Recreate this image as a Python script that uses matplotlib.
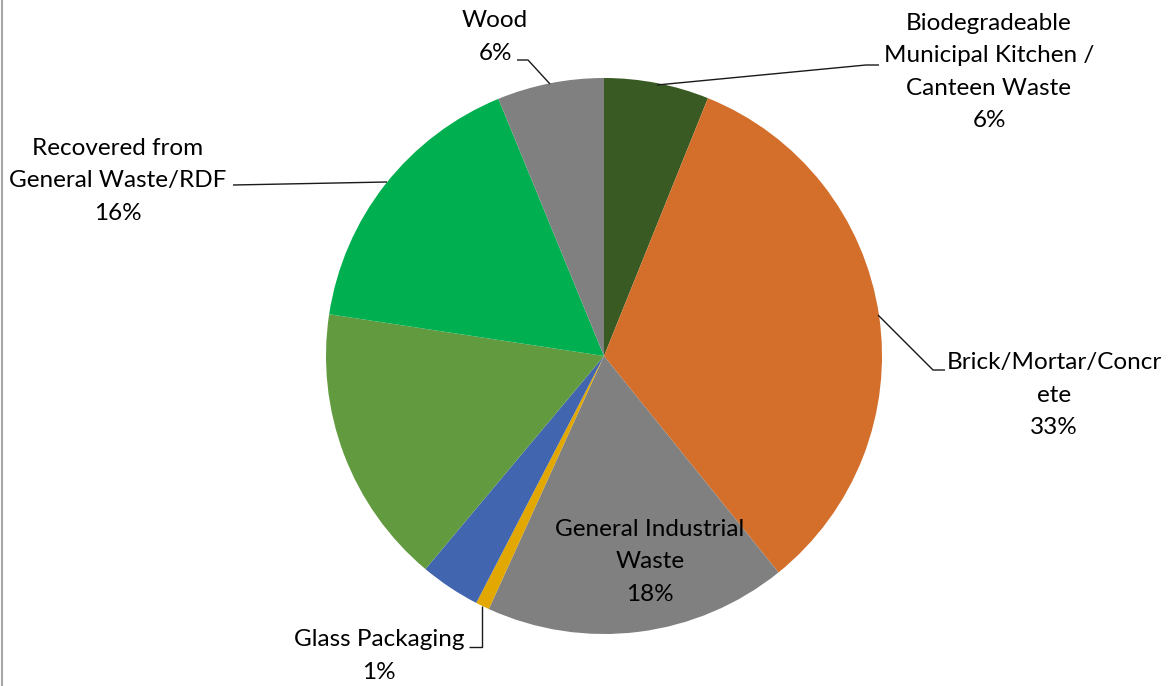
import matplotlib
matplotlib.use("Agg")
import matplotlib.pyplot as plt
from matplotlib.lines import Line2D

# ---- data ----
categories = [
    "Biodegradeable\nMunicipal Kitchen /\nCanteen Waste",
    "Brick/Mortar/Concr\nete",
    "General Industrial\nWaste",
    "Glass Packaging",
    "",  # unlabeled blue slice
    "",  # unlabeled green slice
    "Recovered from\nGeneral Waste/RDF",
    "Wood",
]
values = [6.1, 33.1, 17.6, 0.8, 3.5, 16.3, 16.4, 6.2]
colors = ["#3A5A24", "#D36F2B", "#808080", "#E2A800",
          "#4165AE", "#629A3F", "#00B050", "#808080"]

W, H = 1173, 686
fig = plt.figure(figsize=(W / 100, H / 100), dpi=100)
ax = fig.add_axes([0, 0, 1, 1])

cx, cy, r = 604, H - 356, 278
ax.pie(values, colors=colors, startangle=90, counterclock=False,
       center=(cx, cy), radius=r, frame=True,
       wedgeprops=dict(linewidth=0))
ax.set_xlim(0, W)
ax.set_ylim(0, H)
ax.set_aspect("equal")
ax.axis("off")

total = sum(values)
pct = [f"{v / total * 100:.0f}%" for v in values]

# label block centers (image px) and leader lines (image px)
label_pos = {
    0: (989, 72),
    1: (1054, 395),
    2: (650, 562),
    3: (379, 656),
    6: (118, 181),
    7: (495, 37),
}
leaders = {
    0: [(657, 85), (866, 65), (879, 65)],
    1: [(878, 315), (933, 370), (945, 370)],
    3: [(482, 606), (482, 647), (469, 647)],
    6: [(387, 182), (233, 185)],
    7: [(550, 84), (528, 60), (517, 60)],
}

for i, (x, y) in label_pos.items():
    ax.text(x, H - y, categories[i] + "\n" + pct[i], ha="center", va="center",
            fontsize=17.5, family=["Lato", "DejaVu Sans"], color="#000000",
            linespacing=1.65)

for i, pts in leaders.items():
    xs = [p[0] for p in pts]
    ys = [H - p[1] for p in pts]
    ax.plot(xs, ys, color="#1a1a1a", lw=1.0, solid_capstyle="butt")

# left border line
fig.add_artist(Line2D([1.5 / W, 1.5 / W], [0, 1], transform=fig.transFigure,
                      color="#A6A6A6", lw=1.5))

fig.savefig("out.png", dpi=100)
